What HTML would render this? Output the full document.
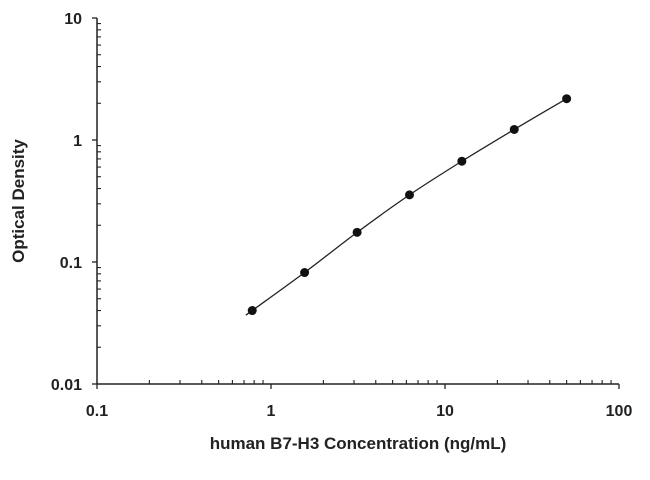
<!DOCTYPE html>
<html><head><meta charset="utf-8"><style>
body{margin:0;background:#fff;}
svg text{font-family:"Liberation Sans",sans-serif;font-weight:bold;fill:#222;}
</style></head><body>
<svg id="chart" width="650" height="475" viewBox="0 0 650 475" xmlns="http://www.w3.org/2000/svg">
<g id="axes"></g>
<g id="marks"></g>
<text x="358" y="449" text-anchor="middle" font-size="17">human B7-H3 Concentration (ng/mL)</text>
<text transform="translate(24,201) rotate(-90)" text-anchor="middle" font-size="17">Optical Density</text>
</svg>
<script>
const conc = [0.78, 1.56, 3.125, 6.25, 12.5, 25, 50];
const od = [0.04, 0.082, 0.175, 0.355, 0.67, 1.22, 2.18];
const xTicks = [0.1, 1, 10, 100];
const xTickLabels = ["0.1", "1", "10", "100"];
const yTicks = [0.01, 0.1, 1, 10];
const yTickLabels = ["0.01", "0.1", "1", "10"];

const X0=97, X1=619, Y0=384, Y1=18;
const xs = v => X0 + (Math.log10(v)+1)/3*(X1-X0);
const ys = v => Y0 - (Math.log10(v)+2)/3*(Y0-Y1);
const NS="http://www.w3.org/2000/svg";
const axes=document.getElementById('axes'), marks=document.getElementById('marks');
function mk(tag, attrs, parent){const e=document.createElementNS(NS,tag);for(const k in attrs)e.setAttribute(k,attrs[k]);parent.appendChild(e);return e;}

let e;
e=mk('line',{x1:X0,y1:Y1,x2:X0,y2:Y0,stroke:'#222','stroke-width':1.5},axes);


e=mk('line',{x1:X0,y1:Y0,x2:X1,y2:Y0,stroke:'#222','stroke-width':1.5},axes);



xTicks.forEach((t,i)=>{
  const x=xs(t);
  e=mk('line',{x1:x,y1:Y0,x2:x,y2:Y0+5,stroke:'#222','stroke-width':1.3},axes);
  
  
  e=mk('text',{x:x,y:Y0+32,'text-anchor':'middle','font-size':16},axes);
  e.textContent=xTickLabels[i];
  
  
  if(i<xTicks.length-1){for(let m=2;m<=9;m++){const mx=xs(t*m);
    e=mk('line',{x1:mx,y1:Y0,x2:mx,y2:Y0-4,stroke:'#222','stroke-width':1.1},axes);
    
    }}
});
yTicks.forEach((t,i)=>{
  const y=ys(t);
  e=mk('line',{x1:X0-5,y1:y,x2:X0,y2:y,stroke:'#222','stroke-width':1.3},axes);
  
  
  e=mk('text',{x:X0-15,y:y+6,'text-anchor':'end','font-size':16},axes);
  e.textContent=yTickLabels[i];
  
  
  if(i<yTicks.length-1){for(let m=2;m<=9;m++){const my=ys(t*m);
    e=mk('line',{x1:X0,y1:my,x2:X0+4,y2:my,stroke:'#222','stroke-width':1.1},axes);
    
    }}
});

// smooth curve through points (Catmull-Rom), slightly extended at the start
const P=conc.map((c,i)=>[xs(c),ys(od[i])]);
const first=[P[0][0]-(P[1][0]-P[0][0])*0.1, P[0][1]-(P[1][1]-P[0][1])*0.1];
const pts=[first,...P];
let d=`M${pts[0][0]},${pts[0][1]}`;
for(let i=0;i<pts.length-1;i++){
  const p0=pts[Math.max(0,i-1)],p1=pts[i],p2=pts[i+1],p3=pts[Math.min(pts.length-1,i+2)];
  const c1=[p1[0]+(p2[0]-p0[0])/6,p1[1]+(p2[1]-p0[1])/6];
  const c2=[p2[0]-(p3[0]-p1[0])/6,p2[1]-(p3[1]-p1[1])/6];
  d+=` C${c1[0]},${c1[1]} ${c2[0]},${c2[1]} ${p2[0]},${p2[1]}`;
}
e=mk('path',{d:d,fill:'none',stroke:'#222','stroke-width':1.3},marks);


P.forEach(p=>{
  e=mk('circle',{cx:p[0],cy:p[1],r:4.5,fill:'#111'},marks);
  
  
});
</script>
</body></html>
